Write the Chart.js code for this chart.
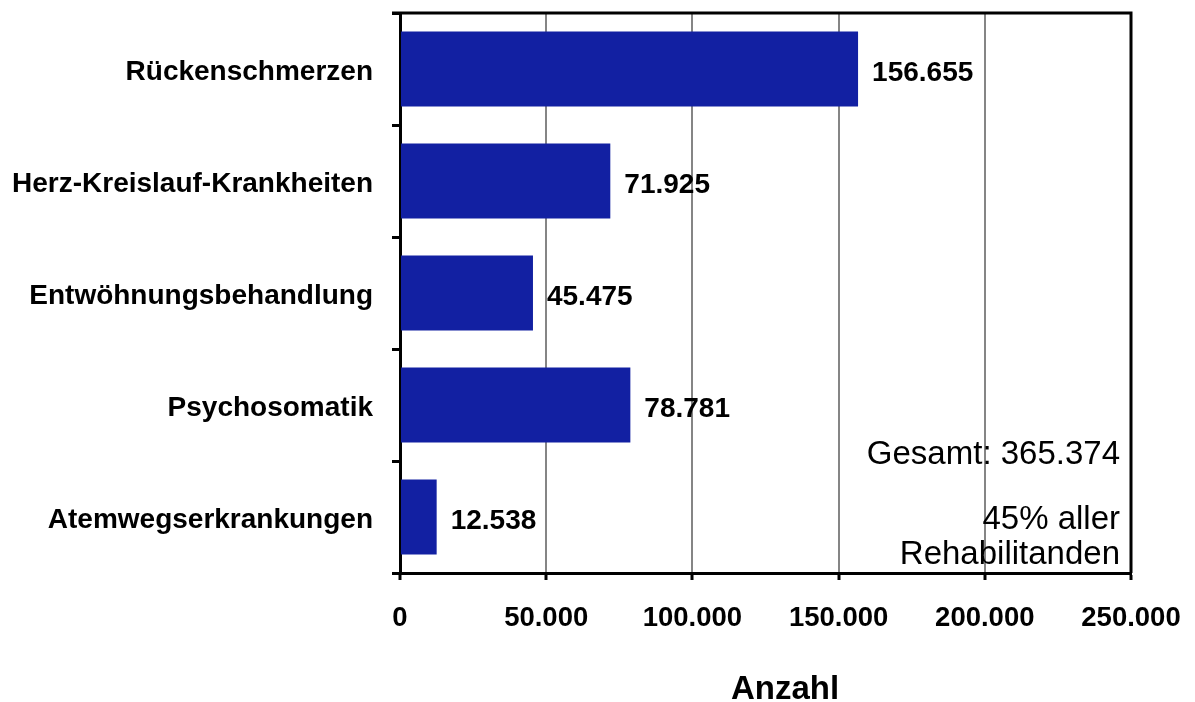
<!DOCTYPE html>
<html>
<head>
<meta charset="utf-8">
<script src="https://cdn.jsdelivr.net/npm/chart.js@4/dist/chart.umd.min.js"></script>
<style>
  html, body { margin: 0; padding: 0; background: #fff; }
  #wrap { width: 1195px; height: 702px; }
</style>
</head>
<body>
<div id="wrap"><canvas id="chart"></canvas></div>
<script>
// Rehabilitanden nach Diagnosegruppen

const categories = [
  "Rückenschmerzen",
  "Herz-Kreislauf-Krankheiten",
  "Entwöhnungsbehandlung",
  "Psychosomatik",
  "Atemwegserkrankungen",
];
const counts = [156655, 71925, 45475, 78781, 12538];
const xTicks = [0, 50000, 100000, 150000, 200000, 250000];
const noteLines = ["Gesamt: 365.374", "", "45% aller", "Rehabilitanden"];
const axisTitle = "Anzahl";

const FONT = "'Liberation Sans', Arial, Helvetica, sans-serif";

function formatDe(n) {
  return String(n).replace(/\B(?=(\d{3})+(?!\d))/g, ".");
}

// value labels right of each bar
const barLabels = {
  id: "barLabels",
  afterDatasetsDraw(chart) {
    const { ctx } = chart;
    const meta = chart.getDatasetMeta(0);
    ctx.save();
    ctx.font = "bold 28px " + FONT;
    ctx.fillStyle = "#000";
    ctx.textAlign = "left";
    ctx.textBaseline = "middle";
    meta.data.forEach((bar, i) => {
      ctx.fillText(formatDe(counts[i]), bar.x + 14, bar.y + 4);
    });
    ctx.restore();
  },
};

// frame (top + right), note text and axis title
const frameAndNote = {
  id: "frameAndNote",
  afterDraw(chart) {
    const { ctx, chartArea } = chart;
    ctx.save();
    ctx.strokeStyle = "#000";
    ctx.lineWidth = 3;
    ctx.beginPath();
    ctx.moveTo(chartArea.left - 8, chartArea.top);
    ctx.lineTo(chartArea.right, chartArea.top);
    ctx.lineTo(chartArea.right, chartArea.bottom);
    ctx.stroke();

    ctx.font = "33px " + FONT;
    ctx.fillStyle = "#000";
    ctx.textAlign = "right";
    ctx.textBaseline = "middle";
    const ys = [455, 488, 520, 555];
    noteLines.forEach((line, i) => {
      if (line) ctx.fillText(line, chartArea.right - 11, ys[i]);
    });

    ctx.font = "bold 33px " + FONT;
    ctx.textAlign = "center";
    ctx.fillText(axisTitle, chartArea.left + 385, 690);
    ctx.restore();
  },
};

new Chart(document.getElementById("chart"), {
  type: "bar",
  data: {
    labels: categories,
    datasets: [
      {
        label: "Anzahl",
        data: counts,
        backgroundColor: "#1220a2",
        borderWidth: 0,
        categoryPercentage: 1,
        barPercentage: 0.67,
      },
    ],
  },
  options: {
    indexAxis: "y",
    responsive: true,
    maintainAspectRatio: false,
    animation: false,
    layout: {
      padding: { top: 13, right: 64, left: 0, bottom: 0 },
    },
    plugins: {
      legend: { display: false },
      tooltip: { enabled: false },
    },
    scales: {
      x: {
        min: 0,
        max: 250000,
        afterBuildTicks: (scale) => {
          scale.ticks = xTicks.map((v) => ({ value: v }));
        },
        afterFit: (scale) => {
          scale.height = 129;
          scale.paddingLeft = 0;
          scale.paddingRight = 0;
        },
        ticks: {
          color: "#000",
          padding: 22,
          maxRotation: 0,
          font: { family: FONT, size: 27.5, weight: "bold" },
          callback: (value) => formatDe(value),
        },
        grid: {
          color: "#858585",
          lineWidth: 2,
          tickLength: 7,
          tickColor: "#000",
          tickWidth: 3,
        },
        border: { color: "#000", width: 3 },
      },
      y: {
        afterFit: (scale) => {
          scale.width = 400;
          scale.paddingTop = 0;
          scale.paddingBottom = 0;
        },
        ticks: {
          color: "#000",
          padding: 19,
          labelOffset: 3,
          font: { family: FONT, size: 28, weight: "bold" },
        },
        grid: {
          offset: true,
          drawOnChartArea: false,
          tickLength: 8,
          color: "#000",
          lineWidth: 3,
        },
        border: { color: "#000", width: 3 },
      },
    },
  },
  plugins: [barLabels, frameAndNote],
});
</script>
</body>
</html>
